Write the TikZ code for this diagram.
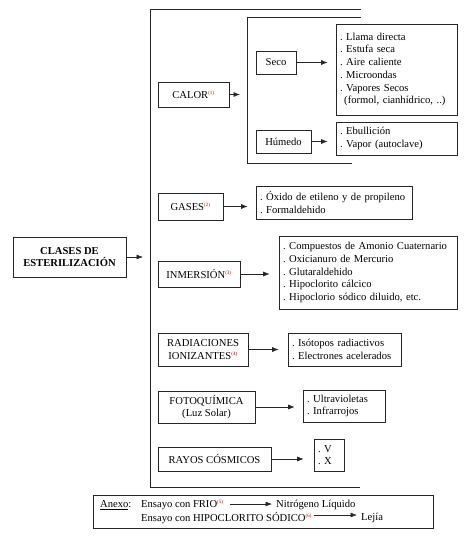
\documentclass[tikz,border=0pt]{standalone}
\usepackage{fontspec}
\setmainfont{Liberation Serif}
\usetikzlibrary{arrows.meta}
\frenchspacing
\def\nota#1{\textsuperscript{\color{red!75!black}\tiny(#1)}}
\tikzset{
	caja/.style={draw=black!85, line width=0.6pt, inner sep=2pt, align=center, font=\fontsize{10.6}{12.7}\selectfont\frenchspacing},
	lista/.style={caja, align=left, inner xsep=4pt, text width=#1},
	flecha/.style={draw=black!85, line width=0.6pt, -{Latex[length=6.5pt,width=5pt]}},
	texto/.style={inner sep=0pt, anchor=west, font=\fontsize{10.6}{12.7}\selectfont},
}

\begin{document}
\begin{tikzpicture}[x=1pt, y=-1pt]
			%%%%% START %%%%%
			
			\useasboundingbox (0, 0) rectangle (470, 540);
			
			\draw[line width=0.6pt, color=black!85] (361, 9) -- (150, 9) -- (150, 487) -- (360, 487);
			\draw[line width=0.6pt, color=black!85] (361, 17) -- (247, 17) -- (247, 163) -- (352, 163);
			\coordinate (grande) at (150, 257);
			\coordinate (calorbr) at (247, 90);
			
			\node[caja, font=\bfseries\fontsize{10.6}{12.7}\selectfont, minimum width=113pt, minimum height=40pt] (clases) at (69.5, 257) {CLASES DE\\ESTERILIZACIÓN};
			
			\node[caja, minimum width=71pt, minimum height=25pt] (calor) at (193.5, 94.5) {CALOR\nota{1}};
			\node[caja, minimum width=40pt, minimum height=23pt] (seco) at (276, 62.5) {Seco};
			\node[lista=113pt, minimum height=91pt] (secolista) at (396.5, 69.5) {. Llama directa\\. Estufa seca\\. Aire caliente\\. Microondas\\. Vapores Secos\\\hspace{0.4em}(formol, cianhídrico, ..)};
			\node[caja, minimum width=55pt, minimum height=23pt] (humedo) at (283.5, 141.5) {Húmedo};
			\node[lista=113pt, minimum height=33pt] (humedolista) at (396.5, 138.5) {. Ebullición\\. Vapor (autoclave)};
			
			\node[caja, minimum width=65pt, minimum height=27pt] (gases) at (190.5, 206.5) {GASES\nota{2}};
			\node[lista=148pt, minimum height=33pt] (gaseslista) at (334, 202.5) {. Óxido de etileno y de propileno\\. Formaldehido};
			
			\node[caja, minimum width=82pt, minimum height=26pt] (inmersion) at (199, 274) {INMERSIÓN\nota{3}};
			\node[lista=170pt, minimum height=73pt] (inmersionlista) at (368, 272.5) {. Compuestos de Amonio Cuaternario\\. Oxicianuro de Mercurio\\. Glutaraldehido\\. Hipoclorito cálcico\\. Hipoclorio sódico diluido, etc.};
			
			\node[caja, minimum width=90pt, minimum height=33pt] (radiaciones) at (203, 349.5) {RADIACIONES\\IONIZANTES\nota{4}};
			\node[lista=105pt, minimum height=33pt] (radiacioneslista) at (344.5, 349.5) {. Isótopos radiactivos\\. Electrones acelerados};
			
			\node[caja, minimum width=97pt, minimum height=32pt] (foto) at (206.5, 407) {FOTOQUÍMICA\\(Luz Solar)};
			\node[lista=74pt, minimum height=32pt] (fotolista) at (344, 406) {. Ultravioletas\\. Infrarrojos};
			
			\node[caja, minimum width=113pt, minimum height=24pt] (rayos) at (214.5, 459) {RAYOS CÓSMICOS};
			\node[lista=22pt, minimum height=32pt] (rayoslista) at (329, 455) {. V\\. X};
			
			\draw[flecha, shorten >=7pt] (clases.east) -- (clases.east -| grande);
			\draw[flecha, shorten >=7pt] (calor.east) -- (calor.east -| calorbr);
			\draw[flecha, shorten >=8pt] (seco.east) -- (seco.east -| secolista.west);
			\draw[flecha, shorten >=8pt] (humedo.east) -- (humedo.east -| humedolista.west);
			\draw[flecha, shorten >=8pt] (gases.east) -- (gases.east -| gaseslista.west);
			\draw[flecha, shorten >=9pt] (inmersion.east) -- (inmersion.east -| inmersionlista.west);
			\draw[flecha, shorten >=9pt] (radiaciones.east) -- (radiaciones.east -| radiacioneslista.west);
			\draw[flecha, shorten >=8pt] (foto.east) -- (foto.east -| fotolista.west);
			\draw[flecha, shorten >=10pt] (rayos.east) -- (rayos.east -| rayoslista.west);
			
			\node[caja, minimum width=340pt, minimum height=33pt] (anexo) at (263, 511.5) {};
			\node[texto] (anexotit) at (100, 505) {\underline{Anexo}:};
			\node[texto] (frio) at (141, 505) {Ensayo con FRIO\nota{5}};
			\node[texto] (nitrogeno) at (276, 505) {Nitrógeno Líquido};
			\node[texto] (sodico) at (141, 518) {Ensayo con HIPOCLORITO SÓDICO\nota{6}};
			\node[texto] (lejia) at (361, 518) {Lejía};
			
			\draw[flecha, shorten <=6pt, shorten >=4pt] ([yshift=1pt]frio.east) -- ([yshift=1pt]frio.east -| nitrogeno.west);
			\draw[flecha, shorten <=2pt, shorten >=4pt] ([yshift=3pt]sodico.east) -- ([yshift=3pt]sodico.east -| lejia.west);
			
			%%%%% END %%%%%
		\end{tikzpicture}
\end{document}
